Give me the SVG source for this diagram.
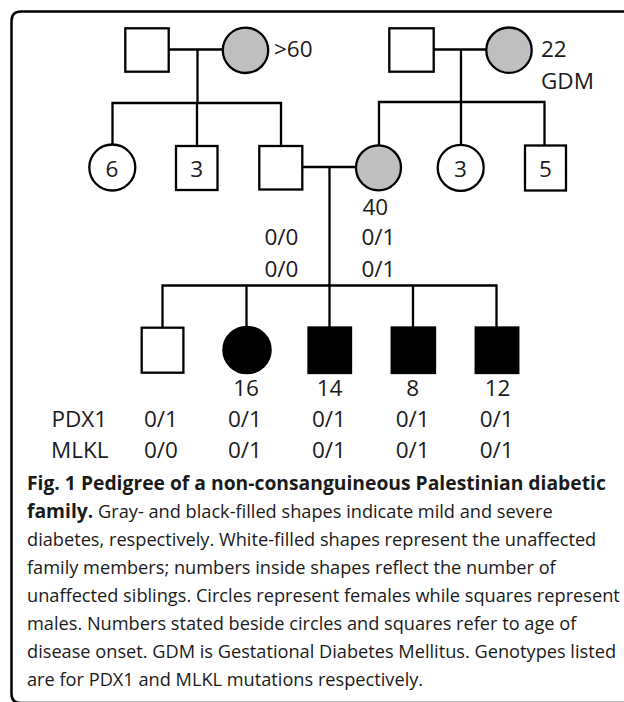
<svg xmlns="http://www.w3.org/2000/svg" width="624" height="702" viewBox="0 0 624 702">
<style>
.sh{stroke:#000;stroke-width:2.3;fill:#fff}
.gray{fill:#bfbfbf}
.blk{fill:#000}
.ln{stroke:#000;stroke-width:2.3;fill:none}
.t{font-family:"Open Sans","DejaVu Sans",sans-serif;font-size:22.5px;fill:#1a1a1a}
.m{text-anchor:middle}
.cap{font-family:"Open Sans","DejaVu Sans",sans-serif;font-size:18.2px;fill:#1a1a1a}
.b{font-weight:bold;font-size:19.3px}
</style>
<rect width="624" height="702" fill="#fff"/>
<path d="M630 11.5 H21 Q11.5 11.5 11.5 21 V694 Q11.5 703 21 703 H630" fill="none" stroke="#000" stroke-width="2.5"/>
<g id="connectors">
<path class="ln" d="M168.7 49.5 H222.5 M197.5 49.5 V103 M112.5 145 V103 H281 V146 M197 103 V146"/>
<path class="ln" d="M433.7 49.5 H486.5 M461 49.5 V102 M379 145.5 V102 H544.5 V145 M461 102 V145"/>
<path class="ln" d="M302.3 167 H356 M329.5 167 V285.5 M162.5 327.5 V285.5 H496.5 V327.5 M246.5 285.5 V327 M329.5 285.5 V327.5 M413 285.5 V327.5"/>
</g>
<g id="gf1"><rect class="sh" x="125.3" y="28.3" width="43.4" height="43.4"/></g>
<g id="gm1"><circle class="sh gray" cx="245.5" cy="50.3" r="22.7"/><text class="t" x="274" y="57">&gt;60</text></g>
<g id="gf2"><rect class="sh" x="389.3" y="28.3" width="44.4" height="43.4"/></g>
<g id="gm2"><circle class="sh gray" cx="509" cy="50.2" r="22.7"/><text class="t" x="541" y="57">22</text><text class="t" x="541" y="88.5">GDM</text></g>
<g id="aunts6"><circle class="sh" cx="112.3" cy="167.5" r="23"/><text class="t m" x="112" y="176.5">6</text></g>
<g id="uncles3"><rect class="sh" x="176" y="146" width="41.5" height="44"/><text class="t m" x="196.8" y="176.5">3</text></g>
<g id="father"><rect class="sh" x="259.3" y="146" width="43" height="43.5"/><text class="t m" x="281.5" y="245">0/0</text><text class="t m" x="281.5" y="276.5">0/0</text></g>
<g id="mother"><circle class="sh gray" cx="378.5" cy="167.8" r="22.5"/><text class="t" x="362.5" y="214.5">40</text><text class="t m" x="378.5" y="245">0/1</text><text class="t m" x="378.5" y="276.5">0/1</text></g>
<g id="aunts3"><circle class="sh" cx="460.7" cy="167.8" r="23"/><text class="t m" x="460.5" y="176.5">3</text></g>
<g id="uncles5"><rect class="sh" x="525" y="145.5" width="41" height="45"/><text class="t m" x="545.5" y="176.5">5</text></g>
<g id="labels"><text class="t" x="51.5" y="426.7">PDX1</text><text class="t" x="51" y="458.3">MLKL</text></g>
<g id="c1"><rect class="sh" x="141.7" y="327.7" width="41.7" height="45"/><text class="t m" x="161" y="426.7">0/1</text><text class="t m" x="161" y="458.3">0/0</text></g>
<g id="c2"><ellipse class="sh blk" cx="247" cy="350" rx="23.6" ry="23.2"/><text class="t m" x="246" y="395.7">16</text><text class="t m" x="245" y="426.7">0/1</text><text class="t m" x="245" y="458.3">0/1</text></g>
<g id="c3"><rect class="sh blk" x="308.5" y="327.5" width="42.5" height="45.5"/><text class="t m" x="329.5" y="395.7">14</text><text class="t m" x="329" y="426.7">0/1</text><text class="t m" x="329" y="458.3">0/1</text></g>
<g id="c4"><rect class="sh blk" x="391.7" y="327.5" width="43.3" height="45.5"/><text class="t m" x="412.7" y="395.7">8</text><text class="t m" x="412.7" y="426.7">0/1</text><text class="t m" x="412.7" y="458.3">0/1</text></g>
<g id="c5"><rect class="sh blk" x="475.7" y="327.5" width="42.6" height="45.5"/><text class="t m" x="497.5" y="395.7">12</text><text class="t m" x="496.7" y="426.7">0/1</text><text class="t m" x="496.7" y="458.3">0/1</text></g>
<g id="caption">
<text class="cap b" x="27" y="490">Fig. 1 Pedigree of a non-consanguineous Palestinian diabetic</text>
<text class="cap" x="27" y="518"><tspan class="b">family.</tspan> Gray- and black-filled shapes indicate mild and severe</text>
<text class="cap" x="27" y="546">diabetes, respectively. White-filled shapes represent the unaffected</text>
<text class="cap" x="27" y="574">family members; numbers inside shapes reflect the number of</text>
<text class="cap" x="27" y="602">unaffected siblings. Circles represent females while squares represent</text>
<text class="cap" x="27" y="630">males. Numbers stated beside circles and squares refer to age of</text>
<text class="cap" x="27" y="658">disease onset. GDM is Gestational Diabetes Mellitus. Genotypes listed</text>
<text class="cap" x="27" y="686">are for PDX1 and MLKL mutations respectively.</text>
</g>
</svg>
